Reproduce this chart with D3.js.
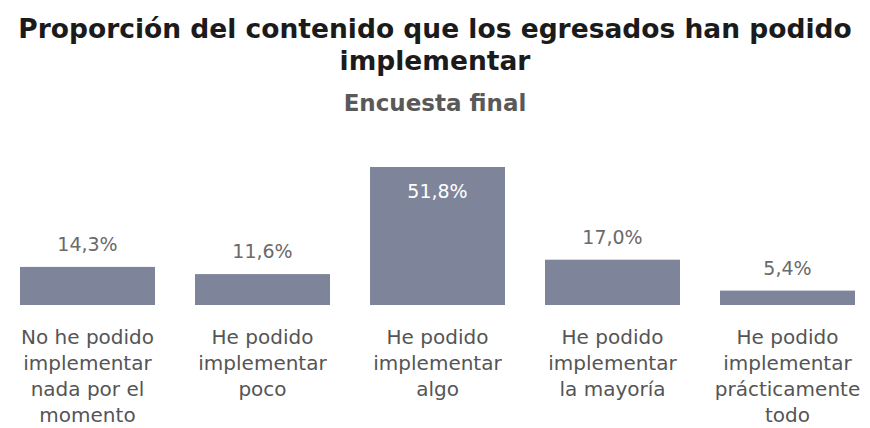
<!DOCTYPE html>
<html>
<head>
<meta charset="utf-8">
<script src="https://cdn.jsdelivr.net/npm/d3@7"></script>
<style>
  body { margin: 0; background: #fff; }
  text { font-family: "DejaVu Sans", sans-serif; }
</style>
</head>
<body>
<script>
// chart data
var categories = [
  "No he podido implementar nada por el momento",
  "He podido implementar poco",
  "He podido implementar algo",
  "He podido implementar la mayoría",
  "He podido implementar prácticamente todo"
];
var categoryLines = [
  ["No he podido", "implementar", "nada por el", "momento"],
  ["He podido", "implementar", "poco"],
  ["He podido", "implementar", "algo"],
  ["He podido", "implementar", "la mayoría"],
  ["He podido", "implementar", "prácticamente", "todo"]
];
var values = [14.3, 11.6, 51.8, 17.0, 5.4];
var titleLines = ["Proporción del contenido que los egresados han podido", "implementar"];
var subtitle = "Encuesta final";

var width = 870, height = 428;
var baseline = 305;

var svg = d3.select("body").append("svg")
    .attr("width", width)
    .attr("height", height);

// title
svg.selectAll(".title")
    .data(titleLines)
    .enter()
    .append("text")
    .attr("class", "title")
    .attr("x", width / 2)
    .attr("y", function (d, i) { return 38 + i * 32; })
    .attr("text-anchor", "middle")
    .style("font-weight", "bold")
    .style("font-size", "26.5px")
    .style("fill", "#1b1b1b")
    .text(function (d) { return d; });

svg.append("text")
    .attr("x", width / 2)
    .attr("y", 111)
    .attr("text-anchor", "middle")
    .style("font-weight", "bold")
    .style("font-size", "23px")
    .style("fill", "#595959")
    .text(subtitle);

// scales
var xScale = d3.scaleBand()
    .domain(categories)
    .range([0, 875])
    .paddingInner(40 / 175)
    .paddingOuter(20 / 175);

var yScale = d3.scaleLinear()
    .domain([0, 51.8])
    .range([baseline, 167]);

var bars = svg.selectAll(".bar")
    .data(values)
    .enter()
    .append("g");

bars.append("rect")
    .attr("class", "bar")
    .attr("x", function (d, i) { return xScale(categories[i]); })
    .attr("y", function (d) { return yScale(d); })
    .attr("width", xScale.bandwidth())
    .attr("height", function (d) { return baseline - yScale(d); })
    .attr("fill", "#7e859b");

bars.append("text")
    .text(function (d) { return d3.format(".1f")(d).replace(".", ",") + "%"; })
    .attr("text-anchor", "middle")
    .attr("x", function (d, i) { return xScale(categories[i]) + xScale.bandwidth() / 2; })
    .attr("y", function (d) { return d > 40 ? yScale(d) + 31 : yScale(d) - 16; })
    .style("fill", function (d) { return d > 40 ? "#ffffff" : "#6a6a6a"; })
    .style("font-size", "19px");

// category labels
var labels = svg.selectAll(".cat")
    .data(categories)
    .enter()
    .append("text")
    .attr("class", "cat")
    .attr("text-anchor", "middle")
    .attr("x", function (d) { return xScale(d) + xScale.bandwidth() / 2; })
    .attr("y", 344)
    .style("fill", "#555555")
    .style("font-size", "20px");

labels.selectAll("tspan")
    .data(function (d, i) { return categoryLines[i]; })
    .enter()
    .append("tspan")
    .attr("x", function () { return d3.select(this.parentNode).attr("x"); })
    .attr("dy", function (d, i) { return i === 0 ? 0 : 26; })
    .text(function (d) { return d; });
</script>
</body>
</html>
